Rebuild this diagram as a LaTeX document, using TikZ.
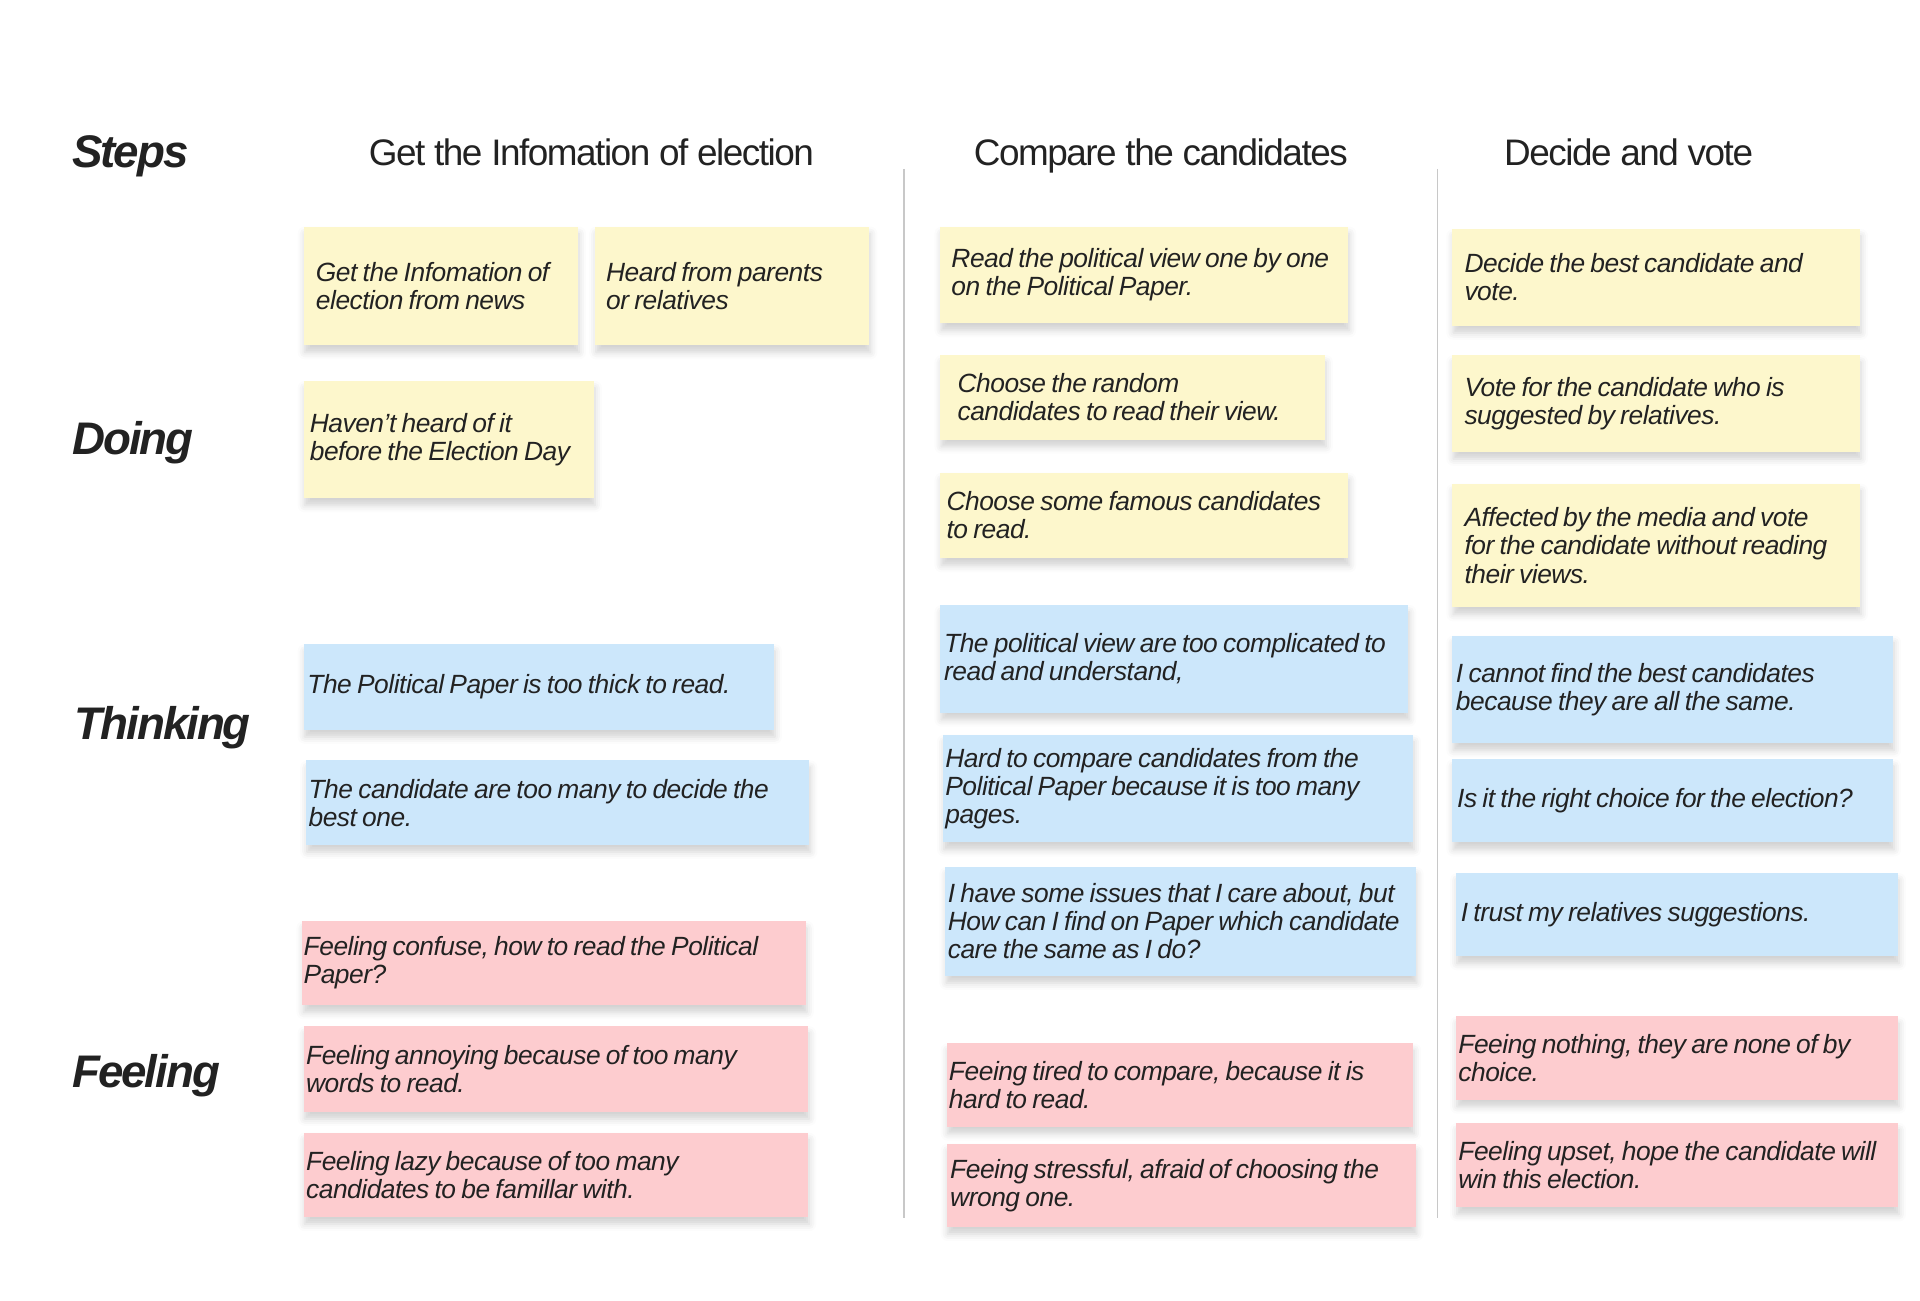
\documentclass[tikz,border=0pt]{standalone}
\usepackage{fontspec}
\setmainfont{Liberation Sans}
\newfontfamily\notefont[LetterSpace=-1.8]{Liberation Sans}
\newfontfamily\headfont[LetterSpace=-4]{Liberation Sans}
\newfontfamily\rowfont[LetterSpace=-4.5]{Liberation Sans}
\usepackage{tikz}
\usetikzlibrary{shadows.blur}

\definecolor{ink}{HTML}{222222}
\definecolor{noteyellow}{HTML}{FDF7CC}
\definecolor{noteblue}{HTML}{CCE7FB}
\definecolor{notepink}{HTML}{FDCCCF}
\definecolor{divider}{HTML}{C8C8C8}

% tight word spacing for the sticky notes
\protected\def\tightspace{\spaceskip=3pt plus 1pt minus 0.3pt\relax
    \hyphenpenalty=10000\relax}

\tikzset{
    sticky/.style={anchor=north west, inner ysep=0pt, outer sep=0pt, align=left,
        text=ink, font=\notefont\itshape\fontsize{15}{16}\selectfont,
        execute at begin node=\tightspace,
        blur shadow={shadow xshift=0.6pt, shadow yshift=-4pt,
            shadow blur radius=4pt, shadow opacity=18}},
    rowlabel/.style={anchor=base west, text=ink,
        font=\rowfont\bfseries\itshape\fontsize{26}{28}\selectfont},
    stephead/.style={anchor=base, text=ink,
        font=\headfont\fontsize{21}{24}\selectfont},
}

\begin{document}
\begin{tikzpicture}[x=0.2449mm, y=-0.2449mm]
        \useasboundingbox (0, 0) rectangle (1568, 1061.7);

        % row labels
        \node[rowlabel] (steps) at (54, 137) {Steps};
        \node[rowlabel] (doing) at (54, 371) {Doing};
        \node[rowlabel] (thinking) at (56, 604) {Thinking};
        \node[rowlabel] (feeling) at (54, 888) {Feeling};

        % step headers
        \node[stephead] (getinfo) at (483, 135) {Get the Infomation of election};
        \node[stephead] (compare) at (948, 135) {Compare the candidates};
        \node[stephead] (decide) at (1330, 135) {Decide and vote};

        \draw[divider, line width=1pt] (738, 138) -- (738, 995);
        \draw[divider, line width=1pt] (1174, 138) -- (1174, 995);

        % sticky notes: name/colour/x1/y1/x2/y2/padding/text
        \foreach \nm/\col/\xa/\ya/\xb/\yb/\pd/\txt in {
            g1/noteyellow/248/185/472/282/10/{Get the Infomation of\\election from news},
            g2/noteyellow/486/185/710/282/9/{Heard from parents\\or relatives},
            g3/noteyellow/248/311/485/407/5/{Haven’t heard of it\\before the Election Day},
            g4/noteblue/248/526/632/596/3/{The Political Paper is too thick to read.},
            g5/noteblue/250/621/661/690/2/{The candidate are too many to decide the\\best one.},
            g6/notepink/247/752/658/821/1/{Feeling confuse, how to read the Political\\Paper?},
            g7/notepink/248/838/660/908/2/{Feeling annoying because of too many\\words to read.},
            g8/notepink/248/925/660/994/2/{Feeling lazy because of too many\\candidates to be famillar with.},
            c1/noteyellow/768/185/1101/264/9/{Read the political view one by one\\on the Political Paper.},
            c2/noteyellow/768/290/1082/359/14/{Choose the random\\candidates to read their view.},
            c3/noteyellow/768/386/1101/456/5/{Choose some famous candidates\\to read.},
            c4/noteblue/768/494/1150/582/3/{The political view are too complicated to\\read and understand,},
            c5/noteblue/770/600/1154/688/2/{Hard to compare candidates from the\\Political Paper because it is too many\\pages.},
            c6/noteblue/772/708/1156/797/2/{I have some issues that I care about, but\\How can I find on Paper which candidate\\care the same as I do?},
            c7/notepink/773/852/1154/920/2/{Feeing tired to compare, because it is\\hard to read.},
            c8/notepink/773/934/1156/1002/3/{Feeing stressful, afraid of choosing the\\wrong one.},
            d1/noteyellow/1186/187/1519/266/10/{Decide the best candidate and\\vote.},
            d2/noteyellow/1186/290/1519/369/10/{Vote for the candidate who is\\suggested by relatives.},
            d3/noteyellow/1186/395/1519/496/10/{Affected by the media and vote\\for the candidate without reading\\their views.},
            d4/noteblue/1186/519/1546/607/3/{I cannot find the best candidates\\because they are all the same.},
            d5/noteblue/1186/620/1546/688/4/{Is it the right choice for the election?},
            d6/noteblue/1189/713/1550/781/4/{I trust my relatives suggestions.},
            d7/notepink/1189/830/1550/898/2/{Feeing nothing, they are none of by\\choice.},
            d8/notepink/1189/917/1550/986/2/{Feeling upset, hope the candidate will\\win this election.}} {
            \pgfmathsetmacro{\tw}{(\xb - \xa - 2*\pd)*0.2449}
            \pgfmathsetmacro{\mh}{(\yb - \ya)*0.2449}
            \pgfmathsetmacro{\ps}{\pd*0.2449}
            \node[sticky, fill=\col, text width=\tw mm, minimum height=\mh mm,
                inner xsep=\ps mm] (\nm) at (\xa, \ya) {\txt};
        }

    \end{tikzpicture}
\end{document}
